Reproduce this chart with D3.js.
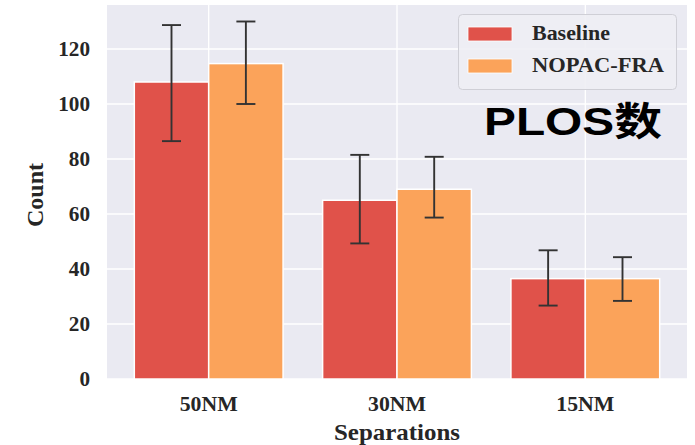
<!DOCTYPE html>
<html>
<head>
<meta charset="utf-8">
<script src="https://cdn.jsdelivr.net/npm/d3@7"></script>
<style>
  html, body { margin: 0; padding: 0; background: #ffffff; }
  svg { display: block; }
</style>
</head>
<body>
<svg id="chart" width="695" height="445"></svg>
<script>
// Separation categories and the two compared methods
const categories = ["50NM", "30NM", "15NM"];
const seriesNames = ["Baseline", "NOPAC-FRA"];

// Mean counts per separation
const baselineValues = [108, 65, 36.5];
const nopacValues = [114.7, 69, 36.5];

// Error bar extents (low, high) per separation
const baselineLow = [86.5, 49.3, 26.7];
const baselineHigh = [128.7, 81.5, 46.8];
const nopacLow = [100, 58.7, 28.4];
const nopacHigh = [130, 80.8, 44.3];

const yTicks = [0, 20, 40, 60, 80, 100, 120];
const seriesColors = ["#e0524a", "#fba35a"];

const series = [
  { name: seriesNames[0], values: baselineValues, low: baselineLow, high: baselineHigh, color: seriesColors[0] },
  { name: seriesNames[1], values: nopacValues, low: nopacLow, high: nopacHigh, color: seriesColors[1] }
];

const svg = d3.select("#chart");
const plot = { left: 107, right: 687, top: 5, bottom: 379 };

const x = d3.scaleBand()
  .domain(categories)
  .range([plot.left, plot.right])
  .paddingInner(0)
  .paddingOuter(0.04);

const groupWidth = x.bandwidth() * 0.79;
const xInner = d3.scaleBand()
  .domain(seriesNames)
  .range([0, groupWidth]);

const y = d3.scaleLinear()
  .domain([0, 136])
  .range([plot.bottom, plot.top]);

const serif = "'Liberation Serif', 'Times New Roman', serif";

// Plot background
svg.append("rect")
  .attr("x", plot.left).attr("y", plot.top)
  .attr("width", plot.right - plot.left)
  .attr("height", plot.bottom - plot.top)
  .attr("fill", "#eaeaf2");

// Grid lines
const grid = svg.append("g");
grid.selectAll("line.h").data(yTicks).join("line")
  .attr("x1", plot.left).attr("x2", plot.right)
  .attr("y1", d => y(d)).attr("y2", d => y(d))
  .attr("stroke", "#ffffff").attr("stroke-width", 1.3);
grid.selectAll("line.v").data(categories).join("line")
  .attr("y1", plot.top).attr("y2", plot.bottom)
  .attr("x1", d => x(d) + x.bandwidth() / 2).attr("x2", d => x(d) + x.bandwidth() / 2)
  .attr("stroke", "#ffffff").attr("stroke-width", 1.3);

// Bars
const groups = svg.append("g").selectAll("g").data(series).join("g");
groups.each(function (s) {
  const g = d3.select(this);
  const offset = (x.bandwidth() - groupWidth) / 2 + xInner(s.name);
  g.selectAll("rect").data(categories).join("rect")
    .attr("x", (c) => x(c) + offset)
    .attr("y", (c, i) => y(s.values[i]))
    .attr("width", xInner.bandwidth())
    .attr("height", (c, i) => y(0) - y(s.values[i]))
    .attr("fill", s.color)
    .attr("stroke", "#ffffff")
    .attr("stroke-width", 1.5);
});

// Error bars
const capHalf = 9.5;
series.forEach(s => {
  const offset = (x.bandwidth() - groupWidth) / 2 + xInner(s.name) + xInner.bandwidth() / 2;
  const eg = svg.append("g").attr("stroke", "#333333").attr("stroke-width", 1.9);
  categories.forEach((c, i) => {
    const cx = x(c) + offset;
    eg.append("line").attr("x1", cx).attr("x2", cx)
      .attr("y1", y(s.low[i])).attr("y2", y(s.high[i]));
    eg.append("line").attr("x1", cx - capHalf).attr("x2", cx + capHalf)
      .attr("y1", y(s.low[i])).attr("y2", y(s.low[i]));
    eg.append("line").attr("x1", cx - capHalf).attr("x2", cx + capHalf)
      .attr("y1", y(s.high[i])).attr("y2", y(s.high[i]));
  });
});

// Y axis
const yAxis = svg.append("g")
  .attr("transform", `translate(${plot.left},0)`)
  .call(d3.axisLeft(y).tickValues(yTicks).tickSize(0).tickPadding(17));
yAxis.select(".domain").remove();
yAxis.selectAll("text")
  .attr("font-family", serif).attr("font-weight", "bold")
  .attr("font-size", 20).attr("fill", "#262626")
  .attr("textLength", d => String(d).length * 10.6)
  .attr("lengthAdjust", "spacingAndGlyphs");

// X axis
const xAxis = svg.append("g")
  .attr("transform", `translate(0,${plot.bottom})`)
  .call(d3.axisBottom(x).tickSize(0).tickPadding(18));
xAxis.select(".domain").remove();
xAxis.selectAll("text")
  .attr("font-family", serif).attr("font-weight", "bold")
  .attr("font-size", 20).attr("fill", "#262626")
  .attr("textLength", 58).attr("lengthAdjust", "spacingAndGlyphs");

// Axis titles
svg.append("text")
  .attr("x", (plot.left + plot.right) / 2 + 0).attr("y", 440)
  .attr("text-anchor", "middle")
  .attr("font-family", serif).attr("font-weight", "bold")
  .attr("font-size", 24).attr("fill", "#262626")
  .attr("textLength", 126).attr("lengthAdjust", "spacingAndGlyphs")
  .text("Separations");

svg.append("text")
  .attr("transform", "translate(43,195) rotate(-90)")
  .attr("text-anchor", "middle")
  .attr("font-family", serif).attr("font-weight", "bold")
  .attr("font-size", 24).attr("fill", "#262626")
  .attr("textLength", 64).attr("lengthAdjust", "spacingAndGlyphs")
  .text("Count");

// Legend
const legend = svg.append("g");
legend.append("rect")
  .attr("x", 458.5).attr("y", 14.5).attr("width", 218).attr("height", 75)
  .attr("rx", 4).attr("ry", 4)
  .attr("fill", "#eeeef4").attr("fill-opacity", 0.9)
  .attr("stroke", "#cfcfd6").attr("stroke-width", 1);
const legendWidths = [78, 132];
series.forEach((s, i) => {
  const ly = 27 + i * 32;
  legend.append("rect")
    .attr("x", 468).attr("y", ly).attr("width", 44).attr("height", 14)
    .attr("fill", s.color).attr("stroke", "#ffffff").attr("stroke-width", 0.8);
  legend.append("text")
    .attr("x", 532).attr("y", ly + 13)
    .attr("font-family", serif).attr("font-weight", "bold")
    .attr("font-size", 20).attr("fill", "#262626")
    .attr("textLength", legendWidths[i]).attr("lengthAdjust", "spacingAndGlyphs")
    .text(s.name);
});

// Annotation
svg.append("text")
  .attr("x", 484).attr("y", 135)
  .attr("font-family", "'Liberation Sans', Arial, 'Noto Sans CJK SC', sans-serif")
  .attr("font-weight", "bold")
  .attr("font-size", 39).attr("fill", "#000000")
  .attr("textLength", 178).attr("lengthAdjust", "spacingAndGlyphs")
  .text("PLOS数");
</script>
</body>
</html>
